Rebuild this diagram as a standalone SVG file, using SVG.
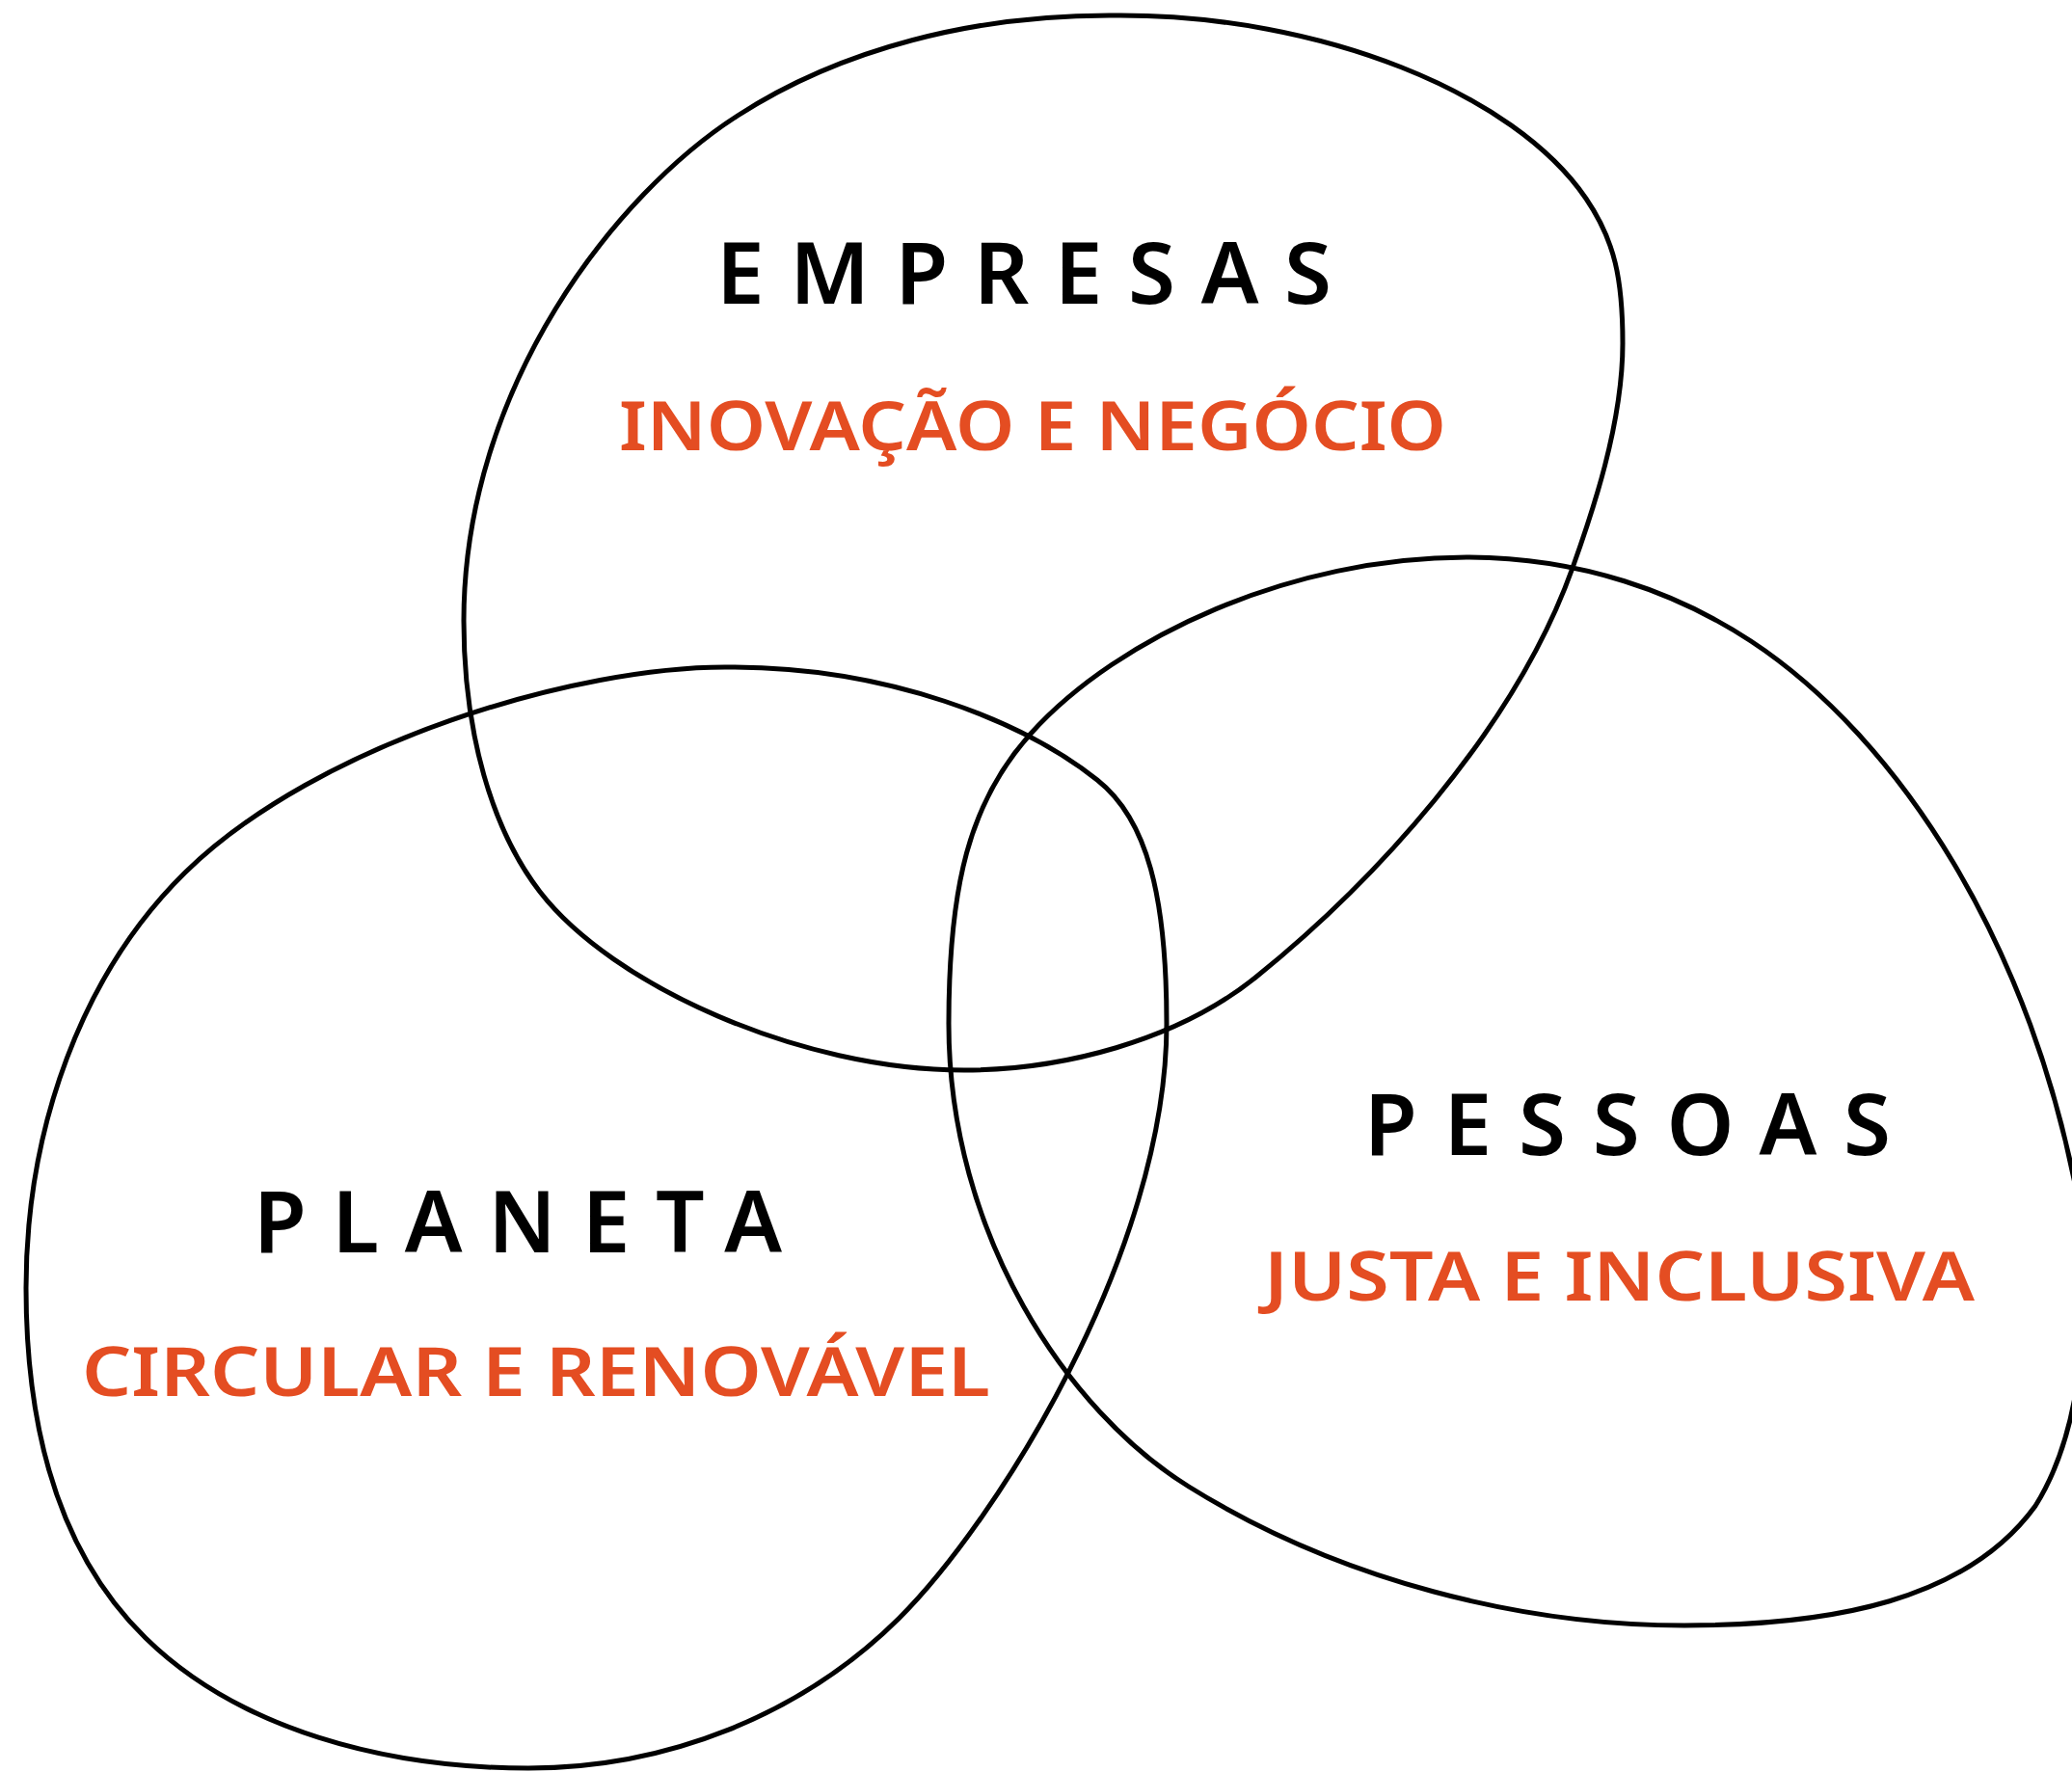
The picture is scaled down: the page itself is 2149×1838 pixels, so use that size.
<svg xmlns="http://www.w3.org/2000/svg" width="2149" height="1838" viewBox="0 0 2149 1838">
<style>
.blob{fill:none;stroke:#000;stroke-width:5;stroke-linejoin:round}
.title{font-family:"Noto Sans","Liberation Sans",sans-serif;font-weight:600;font-size:89px;fill:#000}
.sub{font-family:"Noto Sans","Liberation Sans",sans-serif;font-weight:600;font-size:70px;fill:#E44D22}
</style>
<rect width="2149" height="1838" fill="#fff"/>
<g id="connectors"></g>
<g id="empresas">
<path class="blob" d="M 1162 16 C 1010 14, 870 52, 765 120 C 640 200, 481 400, 481 644 C 481 760, 510 860, 560 925 C 635 1022, 830 1110, 1000 1110 C 1100 1110, 1220 1080, 1302 1014 C 1420 919, 1570 760, 1631 589 C 1651 533, 1683 440, 1683 356 C 1683 290, 1675 250, 1645 206 C 1570 96, 1370 16, 1162 16 Z"/>
<text class="title" x="743" y="315" textLength="638" lengthAdjust="spacing">EMPRESAS</text>
<text class="sub" x="642" y="467" textLength="858" lengthAdjust="spacingAndGlyphs">INOVAÇÃO E NEGÓCIO</text>
</g>
<g id="pessoas">
<path class="blob" d="M 1521 578 C 1640 578, 1740 615, 1816 665 C 1968 765, 2110 980, 2158 1260 C 2170 1400, 2150 1500, 2111 1562 C 2040 1660, 1900 1686, 1747 1686 C 1580 1686, 1390 1640, 1233 1542 C 1107 1464, 984 1280, 984 1062 C 984 920, 1005 832, 1069 761 C 1160 660, 1340 578, 1521 578 Z"/>
<text class="title" x="1415" y="1198" textLength="546" lengthAdjust="spacing">PESSOAS</text>
<text class="sub" x="1311" y="1349" textLength="737" lengthAdjust="spacingAndGlyphs">JUSTA E INCLUSIVA</text>
</g>
<g id="planeta">
<path class="blob" d="M 758 692 C 600 690, 330 770, 192 905 C 85 1010, 27 1170, 27 1336 C 27 1500, 70 1620, 151 1699 C 248 1794, 400 1834, 548 1834 C 690 1834, 830 1780, 932 1679 C 1032 1580, 1210 1300, 1210 1062 C 1210 930, 1190 850, 1138 809 C 1060 747, 920 692, 758 692 Z"/>
<text class="title" x="263" y="1299" textLength="548" lengthAdjust="spacing">PLANETA</text>
<text class="sub" x="85" y="1448" textLength="942" lengthAdjust="spacingAndGlyphs">CIRCULAR E RENOVÁVEL</text>
</g>
</svg>
